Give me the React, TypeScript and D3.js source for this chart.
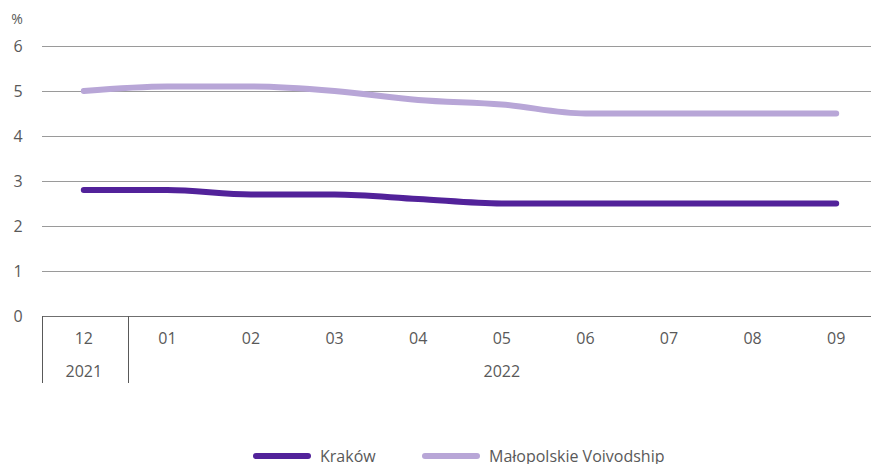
import React from "react";
import * as d3 from "d3";

const months = ["12", "01", "02", "03", "04", "05", "06", "07", "08", "09"];
const years = [
  { label: "2021", from: 0, to: 0 },
  { label: "2022", from: 1, to: 9 },
];
const krakow = [2.8, 2.8, 2.7, 2.7, 2.6, 2.5, 2.5, 2.5, 2.5, 2.5];
const malopolskie = [5.0, 5.1, 5.1, 5.0, 4.8, 4.7, 4.5, 4.5, 4.5, 4.5];
const yTicks = [0, 1, 2, 3, 4, 5, 6];
const seriesNames = ["Kraków", "Małopolskie Voivodship"];
const seriesColors = ["#52229a", "#b8a6d7"];

const W = 871;
const H = 464;
const FONT = "'Open Sans', sans-serif";
const TXT = "#595959";

export default function App() {
  const x = d3.scaleBand<number>().domain(d3.range(months.length)).range([42, 878]);
  const cx = (i: number) => (x(i) as number) + x.bandwidth() / 2;
  const y = d3.scaleLinear().domain([0, 6]).range([316, 46]);
  const line = d3
    .line<number>()
    .x((_, i) => cx(i))
    .y((d) => y(d))
    .curve(d3.curveMonotoneX);
  const series = [krakow, malopolskie];
  const axisY = y(0);
  const tickBottom = 383;

  return (
    <svg width={W} height={H} style={{ position: "absolute", left: 0, top: 0 }}>
      <text x={17} y={24} fontFamily={FONT} fontSize={14} fill={TXT} textAnchor="middle">
        %
      </text>
      {yTicks.map((t) => (
        <g key={t}>
          <line
            x1={42}
            x2={W}
            y1={Math.round(y(t)) + 0.5}
            y2={Math.round(y(t)) + 0.5}
            stroke={t === 0 ? "#6f6f6f" : "#9a9a9a"}
            strokeWidth={1}
          />
          <text
            x={18}
            y={y(t)}
            dy="0.35em"
            fontFamily={FONT}
            fontSize={16}
            fill={TXT}
            textAnchor="middle"
          >
            {t}
          </text>
        </g>
      ))}
      {/* category separators */}
      {[x(0) as number, x(1) as number].map((xx, i) => (
        <line
          key={i}
          x1={Math.round(xx) + 0.5 + (i === 1 ? 2 : 0)}
          x2={Math.round(xx) + 0.5 + (i === 1 ? 2 : 0)}
          y1={axisY}
          y2={tickBottom}
          stroke="#595959"
          strokeWidth={1}
        />
      ))}
      {months.map((m, i) => (
        <text
          key={m}
          x={cx(i)}
          y={338}
          dy="0.35em"
          fontFamily={FONT}
          fontSize={16}
          fill={TXT}
          textAnchor="middle"
        >
          {m}
        </text>
      ))}
      {years.map((yr) => (
        <text
          key={yr.label}
          x={(cx(yr.from) + cx(yr.to)) / 2}
          y={371}
          dy="0.35em"
          fontFamily={FONT}
          fontSize={16}
          fill={TXT}
          textAnchor="middle"
        >
          {yr.label}
        </text>
      ))}
      {series.map((s, k) => (
        <path
          key={k}
          d={line(s) as string}
          fill="none"
          stroke={seriesColors[k]}
          strokeWidth={6}
          strokeLinecap="round"
          strokeLinejoin="round"
        />
      ))}
      {/* legend */}
      {seriesNames.map((n, k) => {
        const lx = k === 0 ? 256 : 425;
        return (
          <g key={n}>
            <line
              x1={lx}
              x2={lx + 52}
              y1={456}
              y2={456}
              stroke={seriesColors[k]}
              strokeWidth={6}
              strokeLinecap="round"
            />
            <text
              x={lx + 64}
              y={456}
              dy="0.35em"
              fontFamily={FONT}
              fontSize={16}
              fill={TXT}
            >
              {n}
            </text>
          </g>
        );
      })}
    </svg>
  );
}
